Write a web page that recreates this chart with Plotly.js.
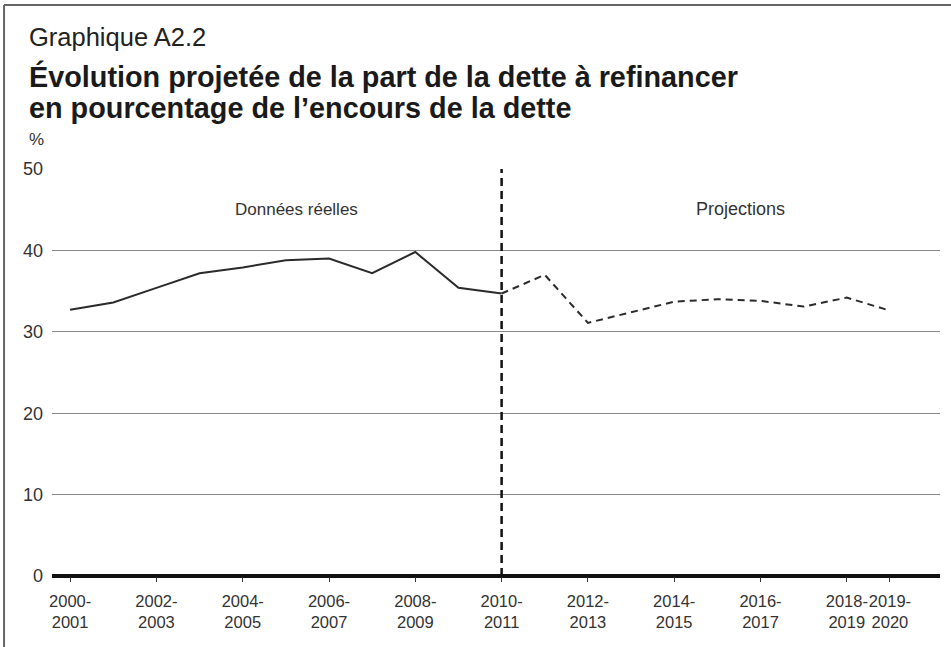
<!DOCTYPE html>
<html>
<head>
<meta charset="utf-8">
<script src="https://cdn.plot.ly/plotly-3.0.1.min.js"></script>
<style>html,body{margin:0;padding:0;background:#fff;}#chart{width:951px;height:647px;}</style>
</head>
<body>
<div id="chart"></div>
<script>
const categories = ['2000-2001','2001-2002','2002-2003','2003-2004','2004-2005','2005-2006','2006-2007','2007-2008','2008-2009','2009-2010','2010-2011','2011-2012','2012-2013','2013-2014','2014-2015','2015-2016','2016-2017','2017-2018','2018-2019','2019-2020'];
const actualYears = categories.slice(0, 11);
const actualValues = [32.7, 33.6, 35.4, 37.2, 37.9, 38.8, 39.0, 37.2, 39.8, 35.4, 34.7];
const projYears = categories.slice(10);
const projValues = [34.7, 37.0, 31.1, 32.4, 33.7, 34.0, 33.8, 33.1, 34.2, 32.6];
const tickCats = ['2000-2001','2002-2003','2004-2005','2006-2007','2008-2009','2010-2011','2012-2013','2014-2015','2016-2017','2018-2019','2019-2020'];
const tickLabels = tickCats.map(c => c.replace('-', '-<br>'));
const yTicks = [0, 10, 20, 30, 40, 50];
const splitYear = '2010-2011';

const FONT = 'Liberation Sans, Arial, Helvetica, sans-serif';

const traces = [
  {x: actualYears, y: actualValues, type: 'scatter', mode: 'lines',
   line: {color: '#2b2b2b', width: 2}, hoverinfo: 'x+y', showlegend: false},
  {x: projYears, y: projValues, type: 'scatter', mode: 'lines',
   line: {color: '#2b2b2b', width: 2, dash: '7px,5px'}, hoverinfo: 'x+y', showlegend: false}
];

const layout = {
  width: 951, height: 647,
  margin: {l: 52, r: 11, t: 169, b: 71},
  paper_bgcolor: '#fff', plot_bgcolor: '#fff',
  font: {family: FONT, color: '#333', size: 18},
  showlegend: false,
  xaxis: {
    type: 'category', categoryarray: categories, categoryorder: 'array',
    range: [-0.42, 20.16],
    tickmode: 'array', tickvals: tickCats, ticktext: tickLabels,
    tickangle: 0,
    ticks: 'outside', ticklen: 5, tickwidth: 1, tickcolor: '#333',
    ticklabelstandoff: 5,
    showgrid: false, zeroline: false, showline: false,
    tickfont: {family: FONT, size: 16.5, color: '#333'}
  },
  yaxis: {
    range: [0, 50], tickmode: 'array', tickvals: yTicks,
    ticks: '', showgrid: true, gridcolor: '#8a8a8a', gridwidth: 1,
    zeroline: true, zerolinecolor: '#111', zerolinewidth: 3.5,
    showline: false, ticklabelstandoff: 8,
    tickfont: {family: FONT, size: 18, color: '#333'}
  },
  shapes: [
    {type: 'line', xref: 'x', yref: 'y', x0: splitYear, x1: splitYear, y0: 0, y1: 50,
     line: {color: '#111', width: 2.5, dash: '8px,5px'}, layer: 'above'},
    {type: 'line', xref: 'paper', yref: 'paper', x0: -0.054, x1: 1.02, y0: 1.403, y1: 1.403,
     line: {color: '#666', width: 2}},
    {type: 'line', xref: 'paper', yref: 'paper', x0: -0.054, x1: -0.054, y0: 1.403, y1: -0.18,
     line: {color: '#666', width: 2}}
  ],
  annotations: [
    {text: 'Graphique A2.2', xref: 'paper', yref: 'paper', x: -0.028, y: 1.3243,
     xanchor: 'left', yanchor: 'middle', showarrow: false,
     font: {family: FONT, size: 25.5, color: '#222'}},
    {text: '<b>Évolution projetée de la part de la dette à refinancer</b>', xref: 'paper', yref: 'paper',
     x: -0.028, y: 1.228, xanchor: 'left', yanchor: 'middle', showarrow: false,
     font: {family: FONT, size: 28.8, color: '#1a1a1a'}},
    {text: '<b>en pourcentage de l’encours de la dette</b>', xref: 'paper', yref: 'paper',
     x: -0.028, y: 1.1499, xanchor: 'left', yanchor: 'middle', showarrow: false,
     font: {family: FONT, size: 28.8, color: '#1a1a1a'}},
    {text: '%', xref: 'paper', yref: 'paper', x: -0.028, y: 1.0737,
     xanchor: 'left', yanchor: 'middle', showarrow: false,
     font: {family: FONT, size: 17, color: '#333'}},
    {text: 'Données réelles', xref: 'paper', yref: 'paper', x: 0.2748, y: 0.9017,
     xanchor: 'center', yanchor: 'middle', showarrow: false,
     font: {family: FONT, size: 17, color: '#333'}},
    {text: 'Projections', xref: 'paper', yref: 'paper', x: 0.7748, y: 0.9017,
     xanchor: 'center', yanchor: 'middle', showarrow: false,
     font: {family: FONT, size: 18, color: '#333'}}
  ]
};

Plotly.newPlot('chart', traces, layout, {displayModeBar: false, staticPlot: true});
</script>
</body>
</html>
